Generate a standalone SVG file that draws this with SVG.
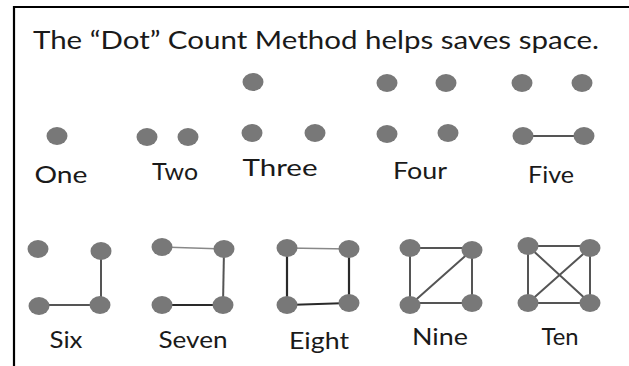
<svg xmlns="http://www.w3.org/2000/svg" width="629" height="366" viewBox="0 0 629 366">
<style>
.dot{fill:#787878}
.lbl{font-family:Lato,"Liberation Sans",sans-serif;font-size:23px;fill:#1a1a1a;text-anchor:middle}
.ttl{font-family:Lato,"Liberation Sans",sans-serif;font-size:25px;fill:#1a1a1a;text-anchor:middle}
.ln{stroke:#555;stroke-width:2;fill:none}
.lt{stroke:#888;stroke-width:1.6;fill:none}
.dk{stroke:#2a2a2a;stroke-width:2.2;fill:none}
</style>
<rect width="629" height="366" fill="#fff"/>
<path d="M14 366 V7 H629" fill="none" stroke="#000" stroke-width="2.2"/>
<text class="ttl" x="316" y="49" textLength="566" lengthAdjust="spacingAndGlyphs">The “Dot” Count Method helps saves space.</text>
<g id="connectors">
<line class="ln" x1="523" y1="136" x2="584" y2="136"/>
<path class="ln" d="M101 251 V305 H39"/>
<line class="lt" x1="162" y1="247" x2="224" y2="249"/>
<line class="ln" x1="224" y1="249" x2="223" y2="305"/>
<line class="dk" x1="162" y1="305" x2="223" y2="305"/>
<line class="lt" x1="287" y1="248" x2="349" y2="249"/>
<line class="dk" x1="287" y1="248" x2="287" y2="305"/>
<line class="dk" x1="349" y1="249" x2="349" y2="303"/>
<line class="dk" x1="287" y1="305" x2="349" y2="303"/>
<path class="ln" d="M410 248 H472 V303 H410 Z M410 305 L472 250"/>
<path class="ln" d="M528 246 H590 V303 H528 Z M528 246 L590 303 M528 303 L590 248"/>
</g>
<g id="one"><ellipse class="dot" cx="57" cy="136" rx="10.5" ry="9"/><text class="lbl" x="61" y="183" textLength="53" lengthAdjust="spacingAndGlyphs">One</text></g>
<g id="two"><ellipse class="dot" cx="147" cy="137" rx="10.5" ry="9"/><ellipse class="dot" cx="188" cy="137" rx="10.5" ry="9"/><text class="lbl" x="175" y="180" textLength="46" lengthAdjust="spacingAndGlyphs">Two</text></g>
<g id="three"><ellipse class="dot" cx="253" cy="82" rx="10.5" ry="9"/><ellipse class="dot" cx="252" cy="133" rx="10.5" ry="9"/><ellipse class="dot" cx="315" cy="133" rx="10.5" ry="9"/><text class="lbl" x="280" y="176" textLength="75" lengthAdjust="spacingAndGlyphs">Three</text></g>
<g id="four"><ellipse class="dot" cx="387" cy="83" rx="10.5" ry="9"/><ellipse class="dot" cx="446" cy="83" rx="10.5" ry="9"/><ellipse class="dot" cx="387" cy="134" rx="10.5" ry="9"/><ellipse class="dot" cx="448" cy="133" rx="10.5" ry="9"/><text class="lbl" x="420" y="179" textLength="54" lengthAdjust="spacingAndGlyphs">Four</text></g>
<g id="five"><ellipse class="dot" cx="522" cy="83" rx="10.5" ry="9"/><ellipse class="dot" cx="582" cy="83" rx="10.5" ry="9"/><ellipse class="dot" cx="523" cy="136" rx="10.5" ry="9"/><ellipse class="dot" cx="584" cy="136" rx="10.5" ry="9"/><text class="lbl" x="551" y="183" textLength="46" lengthAdjust="spacingAndGlyphs">Five</text></g>
<g id="six"><ellipse class="dot" cx="38" cy="249" rx="10.5" ry="9"/><ellipse class="dot" cx="101" cy="251" rx="10.5" ry="9"/><ellipse class="dot" cx="39" cy="306" rx="10.5" ry="9"/><ellipse class="dot" cx="100" cy="305" rx="10.5" ry="9"/><text class="lbl" x="66" y="348" textLength="33" lengthAdjust="spacingAndGlyphs">Six</text></g>
<g id="seven"><ellipse class="dot" cx="162" cy="247" rx="10.5" ry="9"/><ellipse class="dot" cx="224" cy="249" rx="10.5" ry="9"/><ellipse class="dot" cx="162" cy="305" rx="10.5" ry="9"/><ellipse class="dot" cx="223" cy="305" rx="10.5" ry="9"/><text class="lbl" x="193" y="348" textLength="69" lengthAdjust="spacingAndGlyphs">Seven</text></g>
<g id="eight"><ellipse class="dot" cx="287" cy="248" rx="10.5" ry="9"/><ellipse class="dot" cx="349" cy="249" rx="10.5" ry="9"/><ellipse class="dot" cx="287" cy="305" rx="10.5" ry="9"/><ellipse class="dot" cx="349" cy="303" rx="10.5" ry="9"/><text class="lbl" x="319" y="349" textLength="60" lengthAdjust="spacingAndGlyphs">Eight</text></g>
<g id="nine"><ellipse class="dot" cx="410" cy="248" rx="10.5" ry="9"/><ellipse class="dot" cx="472" cy="250" rx="10.5" ry="9"/><ellipse class="dot" cx="410" cy="305" rx="10.5" ry="9"/><ellipse class="dot" cx="472" cy="303" rx="10.5" ry="9"/><text class="lbl" x="440" y="345" textLength="56" lengthAdjust="spacingAndGlyphs">Nine</text></g>
<g id="ten"><ellipse class="dot" cx="528" cy="246" rx="10.5" ry="9"/><ellipse class="dot" cx="590" cy="248" rx="10.5" ry="9"/><ellipse class="dot" cx="528" cy="303" rx="10.5" ry="9"/><ellipse class="dot" cx="590" cy="303" rx="10.5" ry="9"/><text class="lbl" x="560" y="345" textLength="37" lengthAdjust="spacingAndGlyphs">Ten</text></g>
</svg>
